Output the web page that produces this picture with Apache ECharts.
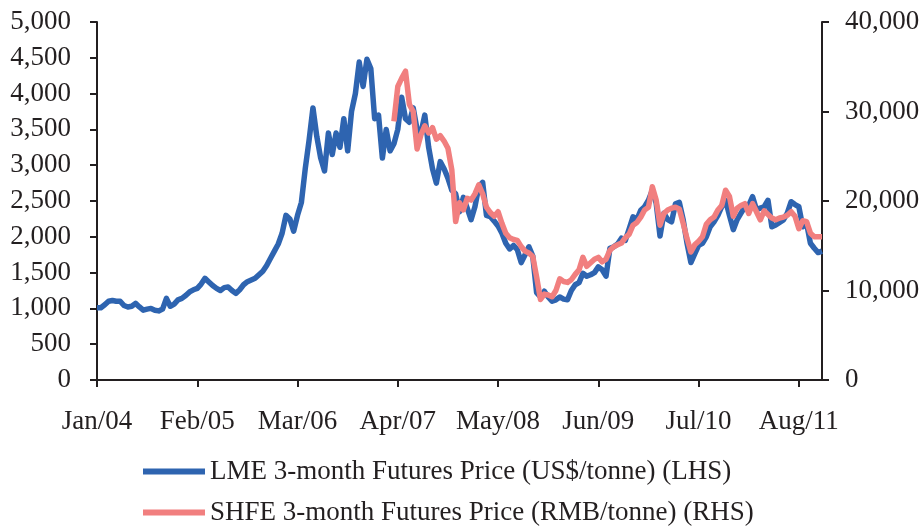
<!DOCTYPE html>
<html>
<head>
<meta charset="utf-8">
<script src="https://cdn.jsdelivr.net/npm/echarts@6/dist/echarts.min.js"></script>
<style>
  html, body { margin: 0; padding: 0; background: #fff; }
  #chart { width: 924px; height: 527px; }
</style>
</head>
<body>
<div id="chart"></div>
<script>
// Zinc 3-month futures, semi-monthly observations from 1 Jan 2004 to 1 Nov 2011
const tickLabels = ['Jan/04', 'Feb/05', 'Mar/06', 'Apr/07', 'May/08', 'Jun/09', 'Jul/10', 'Aug/11'];

const seriesNames = [
  'LME 3-month Futures Price (US$/tonne) (LHS)',
  'SHFE 3-month Futures Price (RMB/tonne) (RHS)'
];

// LME 3-month futures price, US$/tonne (left axis)
const lmePrice = [
  1010, 1010, 1050, 1100, 1110, 1100, 1100, 1040, 1020, 1030,
  1070, 1020, 975, 990, 1000, 975, 965, 990, 1140, 1030,
  1060, 1120, 1140, 1180, 1230, 1260, 1280, 1340, 1420, 1370,
  1320, 1280, 1250, 1290, 1300, 1250, 1210, 1260, 1330, 1373,
  1397, 1420, 1470, 1520, 1600, 1700, 1800, 1900, 2050, 2300,
  2250, 2080, 2300, 2480, 2950, 3350, 3800, 3400, 3100, 2920,
  3450, 3150, 3450, 3250, 3650, 3200, 3750, 4000, 4440, 4100,
  4480, 4350, 3650, 3700, 3100, 3500, 3200, 3300, 3500, 3950,
  3650, 3600, 3800, 3500, 3450, 3700, 3250, 2950, 2750, 3050,
  2950, 2820, 2650, 2600, 2350, 2550, 2400, 2240, 2420, 2700,
  2760, 2300, 2280, 2220, 2150, 2050, 1910, 1830, 1880, 1820,
  1640, 1750, 1860, 1730, 1220, 1160, 1240, 1160, 1100, 1120,
  1160, 1130, 1120, 1250, 1330, 1360, 1490, 1450, 1470, 1500,
  1580, 1540, 1450, 1840, 1860, 1900, 1980, 1950, 2110, 2280,
  2240, 2370, 2420, 2510, 2650, 2470, 2010, 2330, 2240, 2210,
  2460, 2480, 2240, 1910, 1640, 1760, 1880, 1910, 2000, 2140,
  2210, 2300, 2420, 2510, 2300, 2100, 2240, 2330, 2420, 2440,
  2560, 2380, 2400, 2420, 2510, 2140, 2165, 2200, 2235, 2330,
  2490, 2450, 2420, 2140, 2190, 1910, 1840, 1780, 1800
];

// SHFE 3-month futures price, RMB/tonne (right axis); contract listed from late March 2007
const shfePrice = [
  null, null, null, null, null, null, null, null, null, null,
  null, null, null, null, null, null, null, null, null, null,
  null, null, null, null, null, null, null, null, null, null,
  null, null, null, null, null, null, null, null, null, null,
  null, null, null, null, null, null, null, null, null, null,
  null, null, null, null, null, null, null, null, null, null,
  null, null, null, null, null, null, null, null, null, null,
  null, null, null, null, null, null, null, 28900, 32800, 33700,
  34500, 30800, 30000, 25800, 27400, 28400, 27600, 28200, 26900, 27300,
  26700, 25900, 23500, 17700, 19800, 19000, 20300, 20100, 20800, 21800,
  20800, 19300, 18700, 18300, 18800, 17500, 16400, 15900, 15700, 15600,
  14900, 14400, 14200, 13800, 11500, 9000, 9600, 9500, 9300, 10000,
  11300, 11000, 10900, 11200, 11800, 12300, 13700, 12700, 13100, 13500,
  13700, 13200, 13500, 14500, 14900, 15100, 15300, 15900, 16300, 17300,
  17600, 18200, 19000, 19300, 21600, 20100, 17300, 18600, 19000, 19200,
  19300, 19100, 17500, 15800, 14300, 15100, 15500, 16000, 17400, 17900,
  18200, 19000, 19500, 21200, 20500, 18300, 19200, 19500, 19700, 18600,
  19700, 18800, 17900, 18900, 18500, 18100, 17900, 18100, 18200, 18400,
  18800, 18300, 16900, 17800, 17700, 16400, 16000, 16000, 16000
];

// Observation dates: 1st and 16th of each month
const dates = [];
for (let i = 0; i < lmePrice.length; i++) {
  const m = Math.floor(i / 2);
  const y = 2004 + Math.floor(m / 12);
  const mm = String((m % 12) + 1).padStart(2, '0');
  dates.push(y + '-' + mm + '-' + (i % 2 ? '16' : '01'));
}

const STEP = 26; // one labelled tick every 13 months
const FONT = '"Liberation Serif", "Times New Roman", serif';
const INK = '#231f20';
const BLUE = '#2e64b0';
const PINK = '#f17f7f';

const axisLineStyle = { show: true, lineStyle: { color: INK, width: 2 } };
const axisTickStyle = { show: true, length: 7, lineStyle: { color: INK, width: 2 } };
const labelStyle = { color: INK, fontFamily: FONT, fontSize: 27 };
const fmt = v => Number(v).toLocaleString('en-US');

// one single-item legend per row, stacked under the plot
function legendRow(name, top) {
  return {
    orient: 'vertical',
    left: 143,
    top: top,
    padding: 0,
    itemWidth: 62,
    itemHeight: 6,
    icon: 'rect',
    selectedMode: false,
    textStyle: { color: INK, fontFamily: FONT, fontSize: 27 },
    data: [name]
  };
}

const chart = echarts.init(document.getElementById('chart'), null, { renderer: 'canvas' });
chart.setOption({
  animation: false,
  backgroundColor: '#ffffff',
  grid: { left: 97, right: 102, top: 22, bottom: 147 },
  legend: [legendRow(seriesNames[0], 458), legendRow(seriesNames[1], 499)],
  xAxis: {
    type: 'category',
    data: dates,
    boundaryGap: false,
    axisLine: axisLineStyle,
    axisTick: Object.assign({ interval: STEP - 1 }, axisTickStyle),
    axisLabel: Object.assign({
      interval: STEP - 1,
      margin: 28,
      formatter: (v, idx) => tickLabels[Math.round(idx / STEP)] || ''
    }, labelStyle),
    splitLine: { show: false }
  },
  yAxis: [
    {
      type: 'value', min: 0, max: 5000, interval: 500, position: 'left',
      axisLine: axisLineStyle, axisTick: axisTickStyle,
      axisLabel: Object.assign({ margin: 26, formatter: fmt }, labelStyle),
      splitLine: { show: false }
    },
    {
      type: 'value', min: 0, max: 40000, interval: 10000, position: 'right',
      axisLine: axisLineStyle, axisTick: axisTickStyle,
      axisLabel: Object.assign({ margin: 23, formatter: fmt }, labelStyle),
      splitLine: { show: false }
    }
  ],
  series: [
    {
      name: seriesNames[0],
      type: 'line', yAxisIndex: 0, data: lmePrice,
      showSymbol: false, symbol: 'none',
      itemStyle: { color: BLUE },
      lineStyle: { color: BLUE, width: 5.5, join: 'round' }
    },
    {
      name: seriesNames[1],
      type: 'line', yAxisIndex: 1, data: shfePrice,
      showSymbol: false, symbol: 'none', connectNulls: false,
      itemStyle: { color: PINK },
      lineStyle: { color: PINK, width: 5.5, join: 'round' }
    }
  ]
});
</script>
</body>
</html>
